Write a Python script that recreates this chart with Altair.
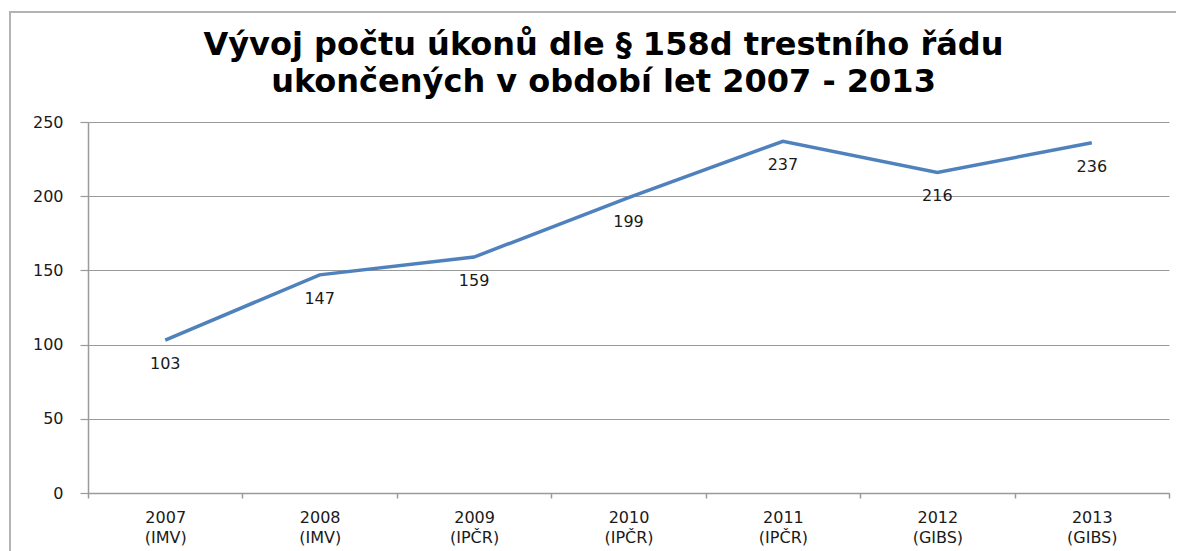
import altair as alt
import pandas as pd

years = ["2007", "2008", "2009", "2010", "2011", "2012", "2013"]
sources = ["IMV", "IMV", "IPČR", "IPČR", "IPČR", "GIBS", "GIBS"]
values = [103, 147, 159, 199, 237, 216, 236]
y_ticks = [0, 50, 100, 150, 200, 250]
title_lines = ["Vývoj počtu úkonů dle § 158d trestního řádu",
               "ukončených v období let 2007 - 2013"]

df = pd.DataFrame({
    "cat": [f"{y}|({s})" for y, s in zip(years, sources)],
    "value": values,
})

GRAY = "#9a9a9a"
FONT = "DejaVu Sans"
TXT = "#1a1a1a"

x = alt.X(
    "cat:N", sort=None,
    scale=alt.Scale(paddingInner=0, paddingOuter=0),
    axis=alt.Axis(
        title=None, labelAngle=0, labelExpr="split(datum.label, '|')",
        tickBand="extent", grid=False, domainColor=GRAY, tickColor=GRAY,
        tickSize=5, labelPadding=11, labelFont=FONT, labelFontSize=16,
        labelColor=TXT, labelLineHeight=20, domainWidth=1.5, tickWidth=1.5,
    ),
)
y = alt.Y(
    "value:Q",
    scale=alt.Scale(domain=[0, 250], nice=False),
    axis=alt.Axis(
        title=None, values=y_ticks, tickSize=8, labelPadding=17,
        labelFont=FONT, labelFontSize=16, labelColor=TXT,
        gridColor=GRAY, tickColor=GRAY, domainColor=GRAY,
        gridWidth=1.2, domainWidth=1.5, tickWidth=1.2,
    ),
)

base = alt.Chart(df)
line = base.mark_line(color="#4F81BD", strokeWidth=3.5).encode(x=x, y=y)
labels = base.mark_text(dy=24, font=FONT, fontSize=16, color=TXT).encode(
    x=alt.X("cat:N", sort=None), y="value:Q", text="value:Q"
)
frame = alt.Chart(pd.DataFrame({"f": [0]})).mark_rect(
    fill=None, stroke="#b3b3b3", strokeWidth=2
).encode(x=alt.value(-78), x2=alt.value(1300), y=alt.value(-110), y2=alt.value(700))

chart = alt.layer(frame, line, labels).properties(
    width=1081, height=371,
    title=alt.TitleParams(
        text=title_lines, font=FONT, fontSize=32, fontWeight="bold",
        lineHeight=37, dx=-25, offset=-88, anchor="middle", color="#000",
    ),
    autosize=alt.AutoSizeParams(type="none"),
    padding={"left": 80, "top": 114, "right": 7, "bottom": 58},
).configure_view(stroke=None)

chart.save("out.html", embed_options={"renderer": "svg", "actions": False})
